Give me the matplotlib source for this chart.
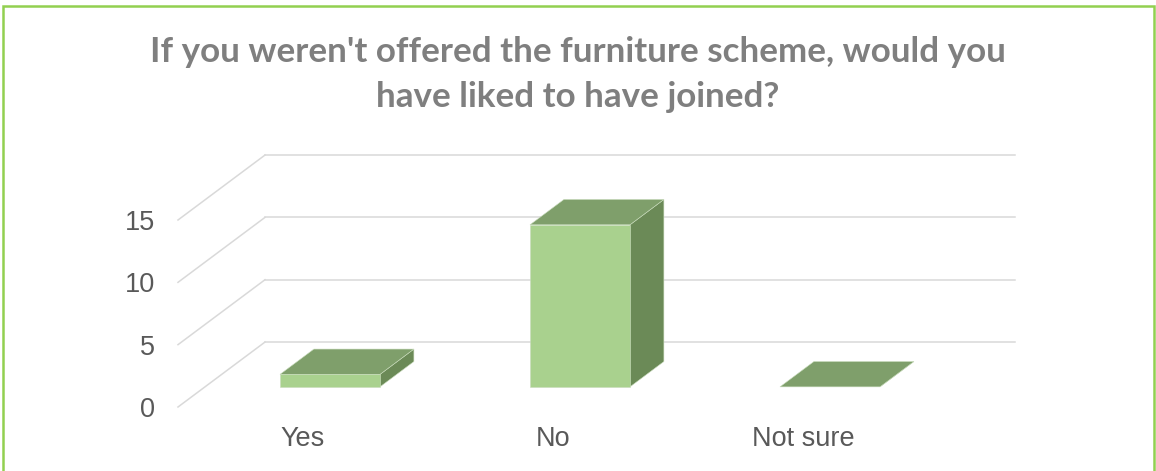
import matplotlib.pyplot as plt
from matplotlib.patches import Polygon, Rectangle

# survey answers
categories = ["Yes", "No", "Not sure"]
counts = [1, 13, 0]
y_ticks = [0, 5, 10, 15]
title_lines = ["If you weren't offered the furniture scheme, would you",
               "have liked to have joined?"]

FRONT = "#a9d18e"
TOP = "#7f9f6b"
SIDE = "#6b8a57"
GRID = "#d9d9d9"
TEXT = "#595959"

W, H = 1156, 471
fig = plt.figure(figsize=(W / 100, H / 100), dpi=100)
fig.patch.set_facecolor("white")

# front plane of the fake-3D box: categories on x, values on y
ax = fig.add_axes([178 / W, (H - 407) / H, 750 / W, 187 / H])
ax.set_xlim(-0.5, len(categories) - 0.5)
ax.set_ylim(0, 15)
for sp in ax.spines.values():
    sp.set_visible(False)
ax.patch.set_alpha(0)

# depth of the box in data units, and where the bars sit inside it
DX, DY = 0.348, 5.21
F0, F1 = 0.31, 0.70
BAR_W = 0.4

x_lo, x_hi = -0.5, len(categories) - 0.5
for v in y_ticks:
    ax.plot([x_lo, x_lo + DX], [v, v + DY], color=GRID, lw=1.1,
            clip_on=False, zorder=1)
    ax.plot([x_lo + DX, x_hi + DX], [v + DY, v + DY], color=GRID, lw=1.1,
            clip_on=False, zorder=1)

ddx, ddy = (F1 - F0) * DX, (F1 - F0) * DY
for i, v in enumerate(counts):
    x0 = i - BAR_W / 2 + F0 * DX
    x1 = i + BAR_W / 2 + F0 * DX
    yb = F0 * DY
    yt = v + F0 * DY
    side = Polygon([(x1, yb), (x1 + ddx, yb + ddy), (x1 + ddx, yt + ddy), (x1, yt)],
                   closed=True, fc=SIDE, ec="#c9dcbc", lw=0.4, clip_on=False, zorder=3)
    top = Polygon([(x0, yt), (x1, yt), (x1 + ddx, yt + ddy), (x0 + ddx, yt + ddy)],
                  closed=True, fc=TOP, ec="#c9dcbc", lw=0.4, clip_on=False, zorder=4)
    ax.add_patch(side)
    ax.add_patch(top)
    if v > 0:
        front = Rectangle((x0, yb), x1 - x0, yt - yb, fc=FRONT, ec="#c9dcbc",
                          lw=0.4, clip_on=False, zorder=5)
        ax.add_patch(front)

ax.set_yticks(y_ticks)
ax.set_yticklabels([str(t) for t in y_ticks])
ax.set_xticks(range(len(categories)))
ax.set_xticklabels(categories)
ax.tick_params(axis="both", length=0, labelsize=19.5, labelcolor=TEXT)
ax.tick_params(axis="y", pad=16.5)
ax.tick_params(axis="x", pad=14)
for lab in ax.get_xticklabels() + ax.get_yticklabels():
    lab.set_fontfamily("Liberation Sans")

# chart title, two centred lines
for row, line in zip([52, 97], title_lines):
    fig.text(0.5, 1 - row / H, line, ha="center", va="center",
             fontsize=25.2, fontweight="bold", color="#7f7f7f", family="Lato")

# green frame round the chart area (open at the bottom)
frame = Rectangle((3 / W, -0.05), (1153.5 - 3) / W, 1.05 - 5.5 / H,
                  transform=fig.transFigure, fill=False, ec="#92d050", lw=1.8)
fig.patches.append(frame)

fig.savefig("out.png", dpi=100)
